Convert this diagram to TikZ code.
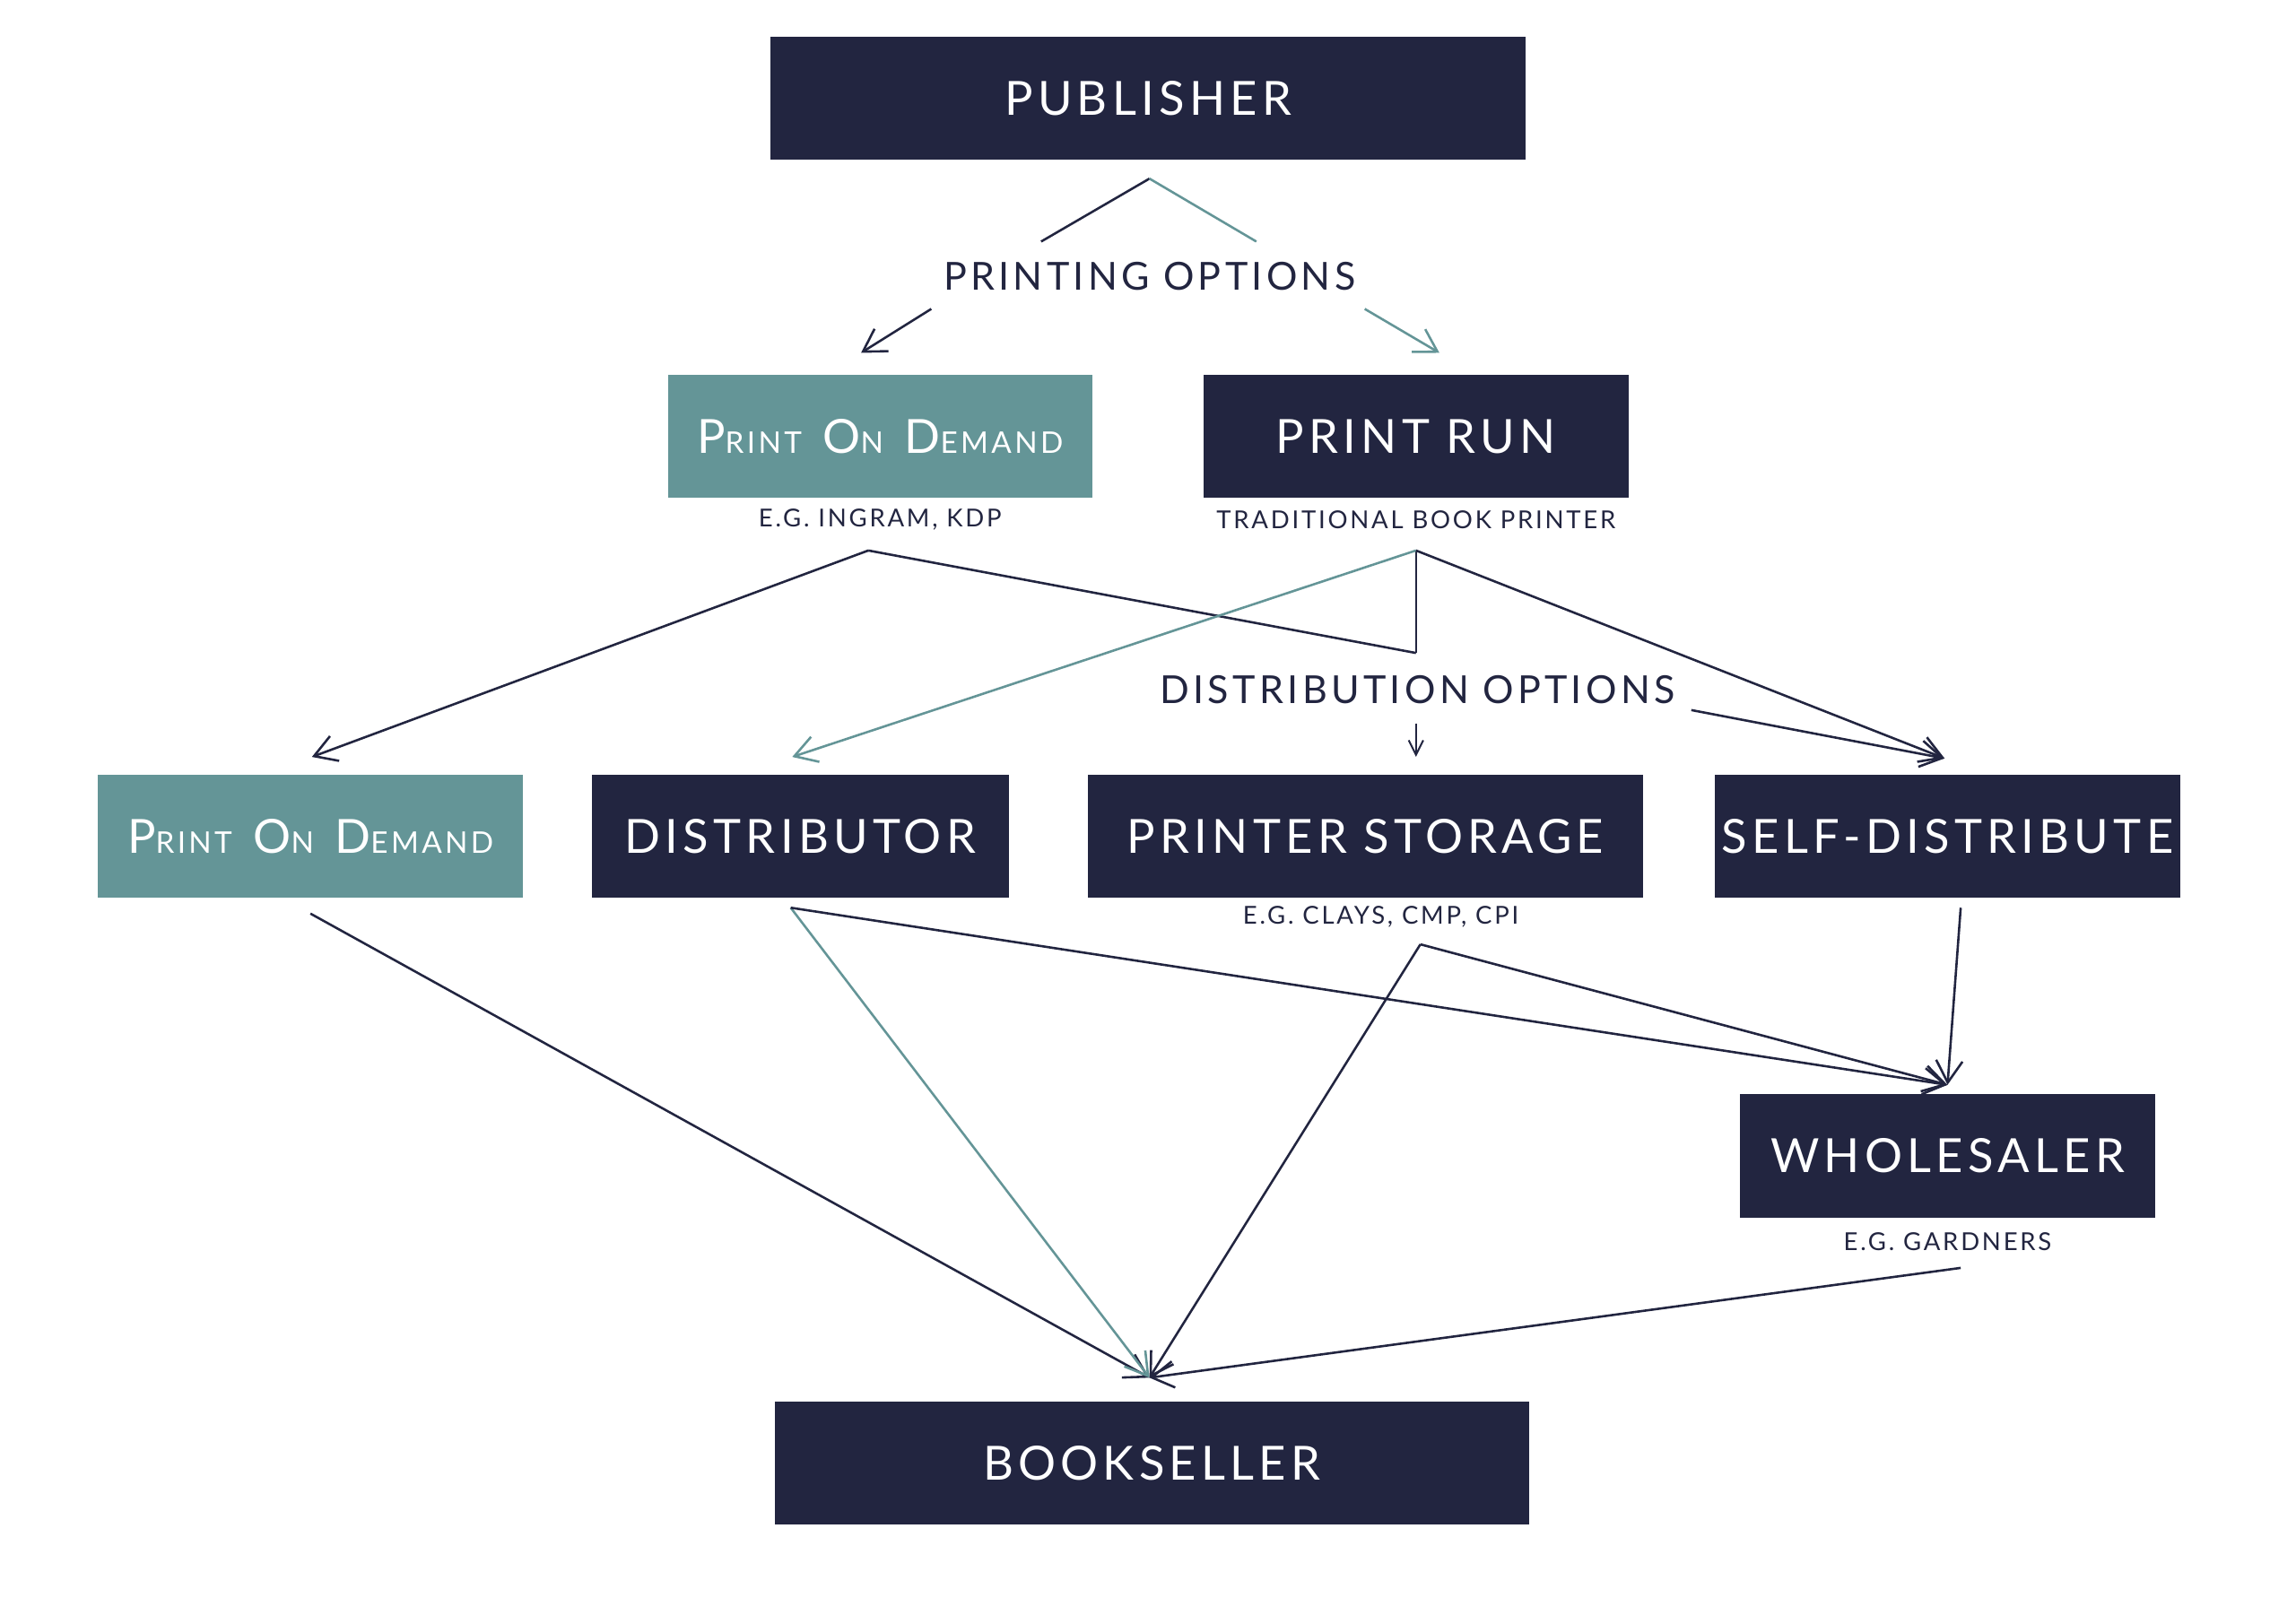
\documentclass[tikz,border=0pt]{standalone}
\usepackage{fontspec}
\setmainfont{Lato}[LetterSpace=10]
\usetikzlibrary{arrows.meta}

\definecolor{inknavy}{RGB}{34,37,64}
\definecolor{podteal}{RGB}{100,149,151}

\newcommand{\bigf}{\fontsize{18.3}{22}\selectfont}
\newcommand{\optf}{\fontsize{15}{18}\selectfont}
\newcommand{\capf}{\fontsize{9.6}{11}\selectfont}
\newcommand{\smc}[2]{#1{\fontsize{11.6}{13}\selectfont #2}}
\newcommand{\podtext}{\smc{P}{RINT}\hspace{0.45em}\smc{O}{N}\hspace{0.45em}\smc{D}{EMAND}}

\tikzset{
  navybox/.style={fill=inknavy, text=white, minimum height=1.68cm, inner sep=0pt, font=\bigf},
  tealbox/.style={navybox, fill=podteal},
  capt/.style={text=inknavy, font=\capf, inner sep=0pt},
  opts/.style={text=inknavy, font=\optf, inner sep=0pt},
  arr/.style={draw=inknavy, line width=0.9pt, -{Straight Barb[length=3mm,width=3.6mm]}},
  tarr/.style={arr, draw=podteal},
  line/.style={draw=inknavy, line width=0.9pt},
  tline/.style={line, draw=podteal}
}

\begin{document}
\begin{tikzpicture}
 \useasboundingbox (0,0) rectangle (31.36,-22.18);
 % boxes
 \node at (15.68,-1.34) (pub) [navybox, minimum width=10.32cm] {PUBLISHER};
 \node at (12.02,-5.96) (podA) [tealbox, minimum width=5.80cm] {\podtext};
 \node at (19.34,-5.96) (run) [navybox, minimum width=5.80cm] {PRINT RUN};
 \node at (4.24,-11.42) (podB) [tealbox, minimum width=5.80cm] {\podtext};
 \node at (10.93,-11.42) (dist) [navybox, minimum width=5.70cm] {DISTRIBUTOR};
 \node at (18.65,-11.42) (stor) [navybox, minimum width=7.58cm] {PRINTER STORAGE};
 \node at (26.60,-11.42) (self) [navybox, minimum width=6.36cm] {SELF-DISTRIBUTE};
 \node at (26.60,-15.79) (whole) [navybox, minimum width=5.68cm] {WHOLESALER};
 \node at (15.73,-19.99) (book) [navybox, minimum width=10.30cm] {BOOKSELLER};
 % captions and option labels
 \node at (12.02,-7.10) (podAcap) [capt] {E.G. INGRAM, KDP};
 \node at (19.34,-7.10) (runcap) [capt] {TRADITIONAL BOOK PRINTER};
 \node at (18.86,-12.52) (storcap) [capt] {E.G. CLAYS, CMP, CPI};
 \node at (26.60,-16.96) (wholecap) [capt] {E.G. GARDNERS};
 \node at (15.70,-3.78) (popt) [opts] {PRINTING OPTIONS};
 \node at (19.36,-9.42) (dopt) [opts] {DISTRIBUTION OPTIONS};
 % connector ends
 \coordinate (apex) at (15.70,-2.44);
 \coordinate (poptl) at (14.22,-3.30);
 \coordinate (poptr) at (17.16,-3.30);
 \coordinate (poptlo) at (12.72,-4.22);
 \coordinate (poptro) at (18.64,-4.22);
 \coordinate (podAin) at (11.76,-4.82);
 \coordinate (runin) at (19.66,-4.82);
 \coordinate (podAout) at (11.86,-7.52);
 \coordinate (runout) at (19.34,-7.52);
 \coordinate (join) at (19.34,-8.92);
 \coordinate (doptout) at (19.34,-9.88);
 \coordinate (doptr) at (23.10,-9.70);
 \coordinate (podBin) at (4.26,-10.34);
 \coordinate (distin) at (10.82,-10.34);
 \coordinate (storin) at (19.34,-10.34);
 \coordinate (selfin) at (26.56,-10.36);
 \coordinate (podBout) at (4.24,-12.48);
 \coordinate (distout) at (10.80,-12.40);
 \coordinate (storout) at (19.40,-12.90);
 \coordinate (selfout) at (26.78,-12.40);
 \coordinate (wholein) at (26.60,-14.82);
 \coordinate (wholeout) at (26.78,-17.32);
 \coordinate (bookin) at (15.70,-18.82);
 % printing options
 \draw [line] (apex) -- (poptl);
 \draw [tline] (apex) -- (poptr);
 \draw [arr] (poptlo) -- (podAin);
 \draw [tarr] (poptro) -- (runin);
 % distribution options
 \draw [line] (runout) -- (join);
 \draw [line] (podAout) -- (join);
 \draw [arr] (podAout) -- (podBin);
 \draw [tarr] (runout) -- (distin);
 \draw [arr] (runout) -- (selfin);
 \draw [draw=inknavy, line width=0.7pt, -{Straight Barb[length=2mm,width=2mm]}] (doptout) -- (storin);
 \draw [arr] (doptr) -- (selfin);
 % to wholesaler and bookseller
 \draw [arr] (podBout) -- (bookin);
 \draw [tarr] (distout) -- (bookin);
 \draw [arr] (distout) -- (wholein);
 \draw [arr] (storout) -- (bookin);
 \draw [arr] (storout) -- (wholein);
 \draw [arr] (selfout) -- (wholein);
 \draw [arr] (wholeout) -- (bookin);
\end{tikzpicture}
\end{document}
